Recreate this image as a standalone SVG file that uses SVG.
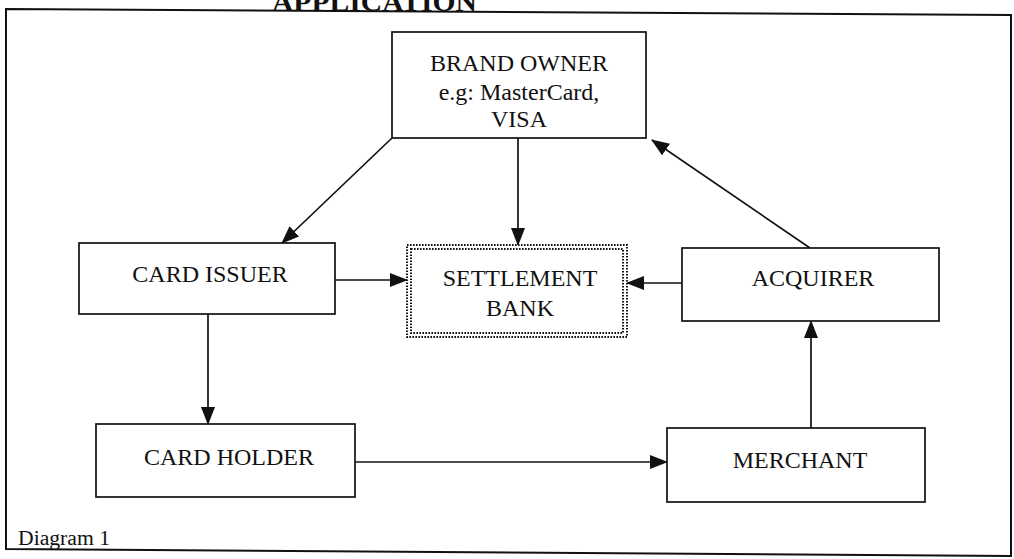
<svg xmlns="http://www.w3.org/2000/svg" width="1014" height="559" viewBox="0 0 1014 559">
<style>
.box{fill:#fff;stroke:#111;stroke-width:1.7}
.dot{fill:none;stroke:#111;stroke-width:2;stroke-dasharray:1.6 1.4}
.t{font-family:"Liberation Serif","Times New Roman",serif;font-size:24px;fill:#111;text-anchor:middle}
.c{stroke:#111;stroke-width:1.7;fill:none;marker-end:url(#ah)}
</style>
<defs>
<marker id="ah" markerUnits="userSpaceOnUse" markerWidth="18" markerHeight="14" refX="17" refY="7" orient="auto">
<path d="M0,0 L18,7 L0,14 Z" fill="#111"/>
</marker>
</defs>
<rect width="1014" height="559" fill="#fff"/>
<g id="frame">
<path d="M6,9 L1011,15 L1011,556 L6,549 Z" fill="none" stroke="#111" stroke-width="2"/>
<text x="272" y="11" font-family="Liberation Serif,serif" font-size="28" font-weight="bold" textLength="205" lengthAdjust="spacingAndGlyphs" fill="#111">APPLICATION</text>
<text x="18" y="545" font-family="Liberation Serif,serif" font-size="20" textLength="92" lengthAdjust="spacingAndGlyphs" fill="#111">Diagram 1</text>
</g>
<g id="connectors">
<line class="c" x1="392" y1="138" x2="282" y2="243"/>
<line class="c" x1="518" y1="138" x2="518" y2="245"/>
<line class="c" x1="810" y1="248" x2="652" y2="140"/>
<line class="c" x1="335" y1="280" x2="407" y2="280"/>
<line class="c" x1="682" y1="283" x2="627" y2="283"/>
<line class="c" x1="208" y1="314" x2="208" y2="424"/>
<line class="c" x1="355" y1="462" x2="667" y2="462"/>
<line class="c" x1="811" y1="428" x2="811" y2="321"/>
</g>
<g id="brand-owner">
<rect class="box" x="392" y="32" width="254" height="106"/>
<text class="t" x="519" y="71">BRAND OWNER</text>
<text class="t" x="519" y="100">e.g: MasterCard,</text>
<text class="t" x="519" y="127">VISA</text>
</g>
<g id="card-issuer">
<rect class="box" x="79" y="243" width="256" height="71"/>
<text class="t" x="210" y="282">CARD ISSUER</text>
</g>
<g id="settlement-bank">
<rect x="407" y="245" width="220" height="92" fill="#fff"/>
<rect class="dot" x="407" y="245" width="220" height="92"/>
<rect class="dot" x="411" y="249" width="212" height="84"/>
<text class="t" x="520" y="286">SETTLEMENT</text>
<text class="t" x="520" y="316">BANK</text>
</g>
<g id="acquirer">
<rect class="box" x="682" y="248" width="257" height="73"/>
<text class="t" x="813" y="286">ACQUIRER</text>
</g>
<g id="card-holder">
<rect class="box" x="96" y="424" width="259" height="73"/>
<text class="t" x="229" y="465">CARD HOLDER</text>
</g>
<g id="merchant">
<rect class="box" x="667" y="428" width="258" height="74"/>
<text class="t" x="800" y="468">MERCHANT</text>
</g>
</svg>
